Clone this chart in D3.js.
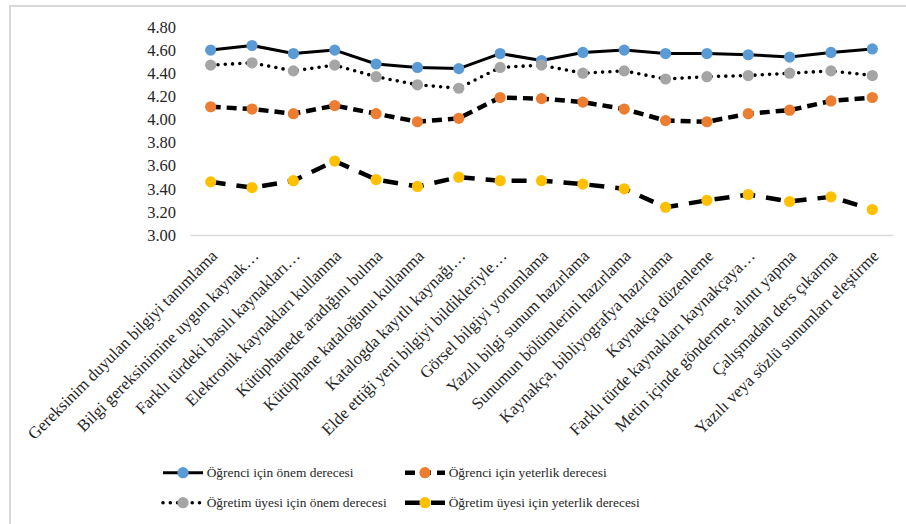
<!DOCTYPE html>
<html><head><meta charset="utf-8">
<script src="https://cdn.jsdelivr.net/npm/d3@7"></script>
<style>
html,body{margin:0;padding:0;background:#fff;}
</style></head>
<body>
<svg id="chart" width="906" height="524"></svg>
<script>
const categories = [
  "Gereksinim duyulan bilgiyi tanımlama",
  "Bilgi gereksinimine uygun kaynak…",
  "Farklı türdeki basılı kaynakları…",
  "Elektronik kaynakları kullanma",
  "Kütüphanede aradığını bulma",
  "Kütüphane kataloğunu kullanma",
  "Katalogda kayıtlı kaynağı…",
  "Elde ettiği yeni bilgiyi bildikleriyle…",
  "Görsel bilgiyi yorumlama",
  "Yazılı bilgi sunum hazırlama",
  "Sunumun bölümlerini hazırlama",
  "Kaynakça, bibliyografya hazırlama",
  "Kaynakça düzenleme",
  "Farklı türde kaynakları kaynakçaya…",
  "Metin içinde gönderme, alıntı yapma",
  "Çalışmadan ders çıkarma",
  "Yazılı veya sözlü sunumları eleştirme"
];
const ogrenciOnem     = [4.60,4.64,4.57,4.60,4.48,4.45,4.44,4.57,4.51,4.58,4.60,4.57,4.57,4.56,4.54,4.58,4.61];
const ogrenciYeterlik = [4.11,4.09,4.05,4.12,4.05,3.98,4.01,4.19,4.18,4.15,4.09,3.99,3.98,4.05,4.08,4.16,4.19];
const uyeOnem         = [4.47,4.49,4.42,4.47,4.37,4.30,4.27,4.45,4.47,4.40,4.42,4.35,4.37,4.38,4.40,4.42,4.38];
const uyeYeterlik     = [3.46,3.41,3.47,3.64,3.48,3.42,3.50,3.47,3.47,3.44,3.40,3.24,3.30,3.35,3.29,3.33,3.22];
const yTicks = [3.00,3.20,3.40,3.60,3.80,4.00,4.20,4.40,4.60,4.80];
const seriesNames = [
  "Öğrenci için önem derecesi",
  "Öğrenci için yeterlik derecesi",
  "Öğretim üyesi için önem derecesi",
  "Öğretim üyesi için yeterlik derecesi"
];

const FONT = "Liberation Serif";

const series = [
  {name: seriesNames[0], values: ogrenciOnem,     color: "#5B9BD5", dash: null,   width: 3,   cap: "butt"},
  {name: seriesNames[1], values: ogrenciYeterlik, color: "#ED7D31", dash: "10,6", width: 4.5, cap: "butt"},
  {name: seriesNames[2], values: uyeOnem,         color: "#A5A5A5", dash: "0,7.3",width: 3.6, cap: "round"},
  {name: seriesNames[3], values: uyeYeterlik,     color: "#FFC000", dash: "15,11",width: 4.5, cap: "butt"}
];

const svg = d3.select("#chart");
const textColor = "#262626";

// frame
svg.append("path").attr("d","M10,524 L10,6 L906,6")
  .attr("fill","none").attr("stroke","#d9d9d9").attr("stroke-width",2);

const x = d3.scaleBand().domain(categories).range([190, 893]);
const y = d3.scaleLinear().domain([3.0, 4.8]).range([235, 27]);
const cx = d => x(d) + x.bandwidth()/2;

// y axis labels
const yAxis = d3.axisLeft(y).tickValues(yTicks).tickFormat(d3.format(".2f")).tickSize(0).tickPadding(14);
const gy = svg.append("g").attr("transform","translate(190,0)").call(yAxis)
  .attr("font-family", FONT).attr("font-size", 16.5);
gy.select(".domain").remove();
gy.selectAll("text").attr("fill",textColor);

// x axis line
const xAxis = d3.axisBottom(x).tickSize(0).tickFormat("");
const gx = svg.append("g").attr("transform","translate(0,235)").call(xAxis);
gx.select(".domain").attr("stroke","#d9d9d9").attr("stroke-width",1.3);

// x labels
svg.append("g").attr("font-family", FONT).attr("font-size", 16.8)
  .selectAll("text").data(categories).join("text")
  .attr("transform", d => `translate(${cx(d)+7.5},${257}) rotate(-45)`)
  .attr("text-anchor","end")
  .attr("fill",textColor)
  .text(d => d);

// lines and markers
const line = d3.line().x((v,i) => cx(categories[i])).y(v => y(v));
series.forEach(s => {
  const g = svg.append("g");
  g.append("path").attr("d", line(s.values))
    .attr("fill","none").attr("stroke","#000").attr("stroke-width",s.width)
    .attr("stroke-linecap",s.cap).attr("stroke-linejoin","round")
    .attr("stroke-dasharray", s.dash);
  g.selectAll("circle").data(s.values).join("circle")
    .attr("cx",(v,i)=>cx(categories[i])).attr("cy",v=>y(v)).attr("r",5.6)
    .attr("fill",s.color);
});

// legend
const legendPos = [
  {x:163, y:472.7},{x:405, y:472.7},{x:163, y:502.7},{x:405, y:502.7}
];
series.forEach((s,i) => {
  const p = legendPos[i];
  const g = svg.append("g").attr("transform",`translate(${p.x},${p.y})`);
  g.append("line").attr("x1",0).attr("x2",40).attr("y1",0).attr("y2",0)
    .attr("stroke","#000").attr("stroke-width",s.width)
    .attr("stroke-linecap",s.cap).attr("stroke-dasharray",s.dash);
  g.append("circle").attr("cx",20).attr("cy",0).attr("r",5.6).attr("fill",s.color);
  g.append("text").attr("x",43.7).attr("y",4.6)
    .attr("font-family", FONT).attr("font-size",13.4).attr("fill",textColor).text(s.name);
});
</script>
</body></html>
